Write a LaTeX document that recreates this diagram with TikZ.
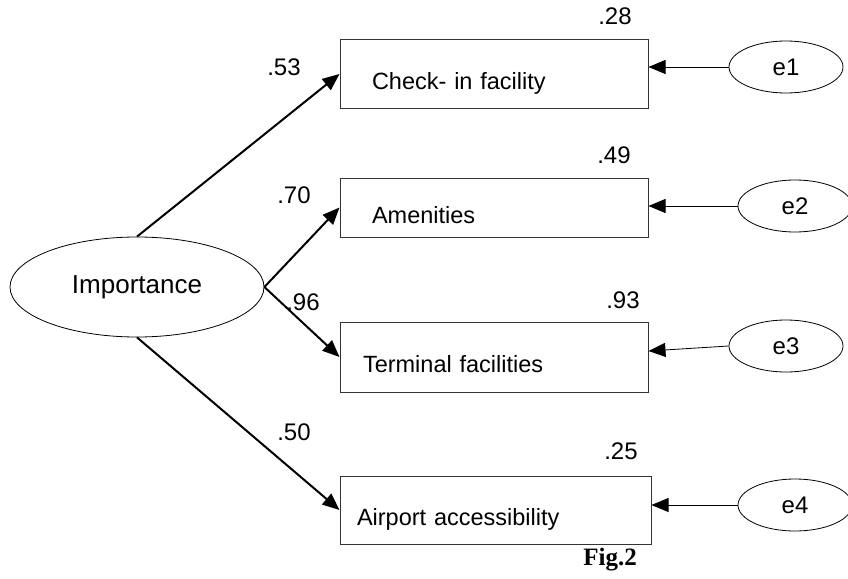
\documentclass[tikz,border=0pt]{standalone}
\usepackage{fontspec}
\setmainfont{Liberation Sans}
\newfontfamily\figfont{Liberation Serif}
\usetikzlibrary{shapes.geometric, arrows.meta}
\tikzstyle{latent} = [ellipse, draw=black, line width=0.8pt, minimum width=254pt, minimum height=100pt, inner sep=0pt, font=\fontsize{26}{30}\selectfont]
\tikzstyle{err} = [ellipse, draw=black, line width=0.8pt, minimum width=114pt, minimum height=52pt, inner sep=0pt, font=\fontsize{24}{28}\selectfont]
\tikzstyle{item} = [rectangle, draw=black!80, line width=1pt, minimum width=308pt, minimum height=68pt, text width=244pt, align=left, text height=36pt, text depth=5pt, inner sep=0pt, font=\fontsize{23.5}{28}\selectfont]
\tikzstyle{coef} = [inner sep=0pt, font=\fontsize{24}{28}\selectfont]
\tikzstyle{arrow} = [line width=2pt, -{Triangle[length=17pt,width=14pt]}]
\tikzstyle{errarrow} = [line width=0.8pt, -{Triangle[length=17pt,width=14pt]}]

\begin{document}
\begin{tikzpicture}[x=1pt, y=-1pt]
    \useasboundingbox (0,0) rectangle (848,578);
    \node (imp) [latent] at (137,287) {Importance};
    \node (chk) [item] at (494,74) {Check- in facility};
    \node (amen) [item, minimum height=59pt] at (494,207.5) {Amenities};
    \node (term) [item, minimum height=70pt, text width=262pt] at (494,357) {Terminal facilities};
    \node (acc) [item, minimum width=311pt, text width=277pt] at (495.5,510) {Airport accessibility};
    \node (e1) [err] at (786,67) {e1};
    \node (e2) [err] at (795,206) {e2};
    \node (e3) [err] at (786,346) {e3};
    \node (e4) [err] at (795,505) {e4};
    % loadings and squared correlations
    \node (w1) [coef] at (284,67) {.53};
    \node (w2) [coef] at (294,195) {.70};
    \node (w3) [coef] at (303,302) {.96};
    \node (w4) [coef] at (294,432) {.50};
    \node (r1) [coef] at (615,16) {.28};
    \node (r2) [coef] at (614,155) {.49};
    \node (r3) [coef] at (623,300) {.93};
    \node (r4) [coef] at (621,451) {.25};
    \node (fig) [font=\figfont\bfseries\fontsize{25}{28}\selectfont, inner sep=0pt] at (610,560) {Fig.2};
    \draw [arrow] (imp.north) -- (chk.west);
    \draw [arrow] (imp.east) -- (amen.west);
    \draw [arrow] (imp.east) -- (term.west);
    \draw [arrow] (imp.south) -- (acc.west);
    \draw [errarrow] (e1.west) -- (e1.west -| chk.east);
    \draw [errarrow] (e2.west) -- (e2.west -| amen.east);
    \draw [errarrow] (e3.west) -- ([yshift=6pt]term.east);
    \draw [errarrow] (e4.west) -- (e4.west -| acc.east);

\end{tikzpicture}
\end{document}
